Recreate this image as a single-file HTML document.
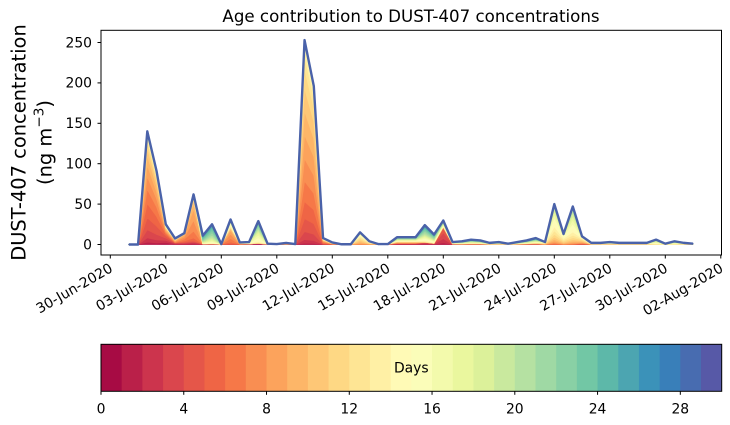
<!DOCTYPE html>
<html>
<head>
<meta charset="utf-8">
<style>
html,body{margin:0;padding:0;background:#fff;}
svg{display:block;}
text{font-family:"DejaVu Sans","Liberation Sans",sans-serif;fill:#000;}
</style>
</head>
<body>
<svg id="s" width="730" height="425" viewBox="0 0 730 425" xmlns="http://www.w3.org/2000/svg">
<rect x="0" y="0" width="730" height="425" fill="#fff"/>
<defs><clipPath id="c"><rect x="101" y="30.3" width="620.5" height="224.7"/></clipPath></defs>
<g id="stack" clip-path="url(#c)"></g>
<rect x="101" y="30.3" width="620.5" height="224.7" fill="none" stroke="#000" stroke-width="1"/>

<text x="411" y="22" text-anchor="middle" font-size="16.67">Age contribution to DUST-407 concentrations</text>

<g stroke="#000" stroke-width="1">
<line x1="97.5" y1="244.5" x2="101" y2="244.5"/>
<line x1="97.5" y1="204.1" x2="101" y2="204.1"/>
<line x1="97.5" y1="163.7" x2="101" y2="163.7"/>
<line x1="97.5" y1="123.3" x2="101" y2="123.3"/>
<line x1="97.5" y1="82.9" x2="101" y2="82.9"/>
<line x1="97.5" y1="42.5" x2="101" y2="42.5"/>
</g>
<g font-size="13.9" text-anchor="end">
<text x="92" y="249.3">0</text>
<text x="92" y="208.9">50</text>
<text x="92" y="168.5">100</text>
<text x="92" y="128.1">150</text>
<text x="92" y="87.7">200</text>
<text x="92" y="47.3">250</text>
</g>

<text transform="translate(25.5,142.5) rotate(-90)" text-anchor="middle" font-size="19.44">DUST-407 concentration</text>
<text transform="translate(51.5,142.5) rotate(-90)" text-anchor="middle" font-size="19.44">(ng m<tspan font-size="13.6" dy="-8">−3</tspan><tspan dy="8">)</tspan></text>

<g stroke="#000" stroke-width="1">
<line x1="110.3" y1="255" x2="110.3" y2="258.5"/>
<line x1="165.8" y1="255" x2="165.8" y2="258.5"/>
<line x1="221.3" y1="255" x2="221.3" y2="258.5"/>
<line x1="276.8" y1="255" x2="276.8" y2="258.5"/>
<line x1="332.3" y1="255" x2="332.3" y2="258.5"/>
<line x1="387.8" y1="255" x2="387.8" y2="258.5"/>
<line x1="443.3" y1="255" x2="443.3" y2="258.5"/>
<line x1="498.8" y1="255" x2="498.8" y2="258.5"/>
<line x1="554.3" y1="255" x2="554.3" y2="258.5"/>
<line x1="609.8" y1="255" x2="609.8" y2="258.5"/>
<line x1="665.3" y1="255" x2="665.3" y2="258.5"/>
<line x1="720.8" y1="255" x2="720.8" y2="258.5"/>
</g>
<g font-size="13.9" text-anchor="end">
<text transform="translate(108.5,262) rotate(-30)" dy="10.3">30-Jun-2020</text>
<text transform="translate(164,262) rotate(-30)" dy="10.3">03-Jul-2020</text>
<text transform="translate(219.5,262) rotate(-30)" dy="10.3">06-Jul-2020</text>
<text transform="translate(275,262) rotate(-30)" dy="10.3">09-Jul-2020</text>
<text transform="translate(330.5,262) rotate(-30)" dy="10.3">12-Jul-2020</text>
<text transform="translate(386,262) rotate(-30)" dy="10.3">15-Jul-2020</text>
<text transform="translate(441.5,262) rotate(-30)" dy="10.3">18-Jul-2020</text>
<text transform="translate(497,262) rotate(-30)" dy="10.3">21-Jul-2020</text>
<text transform="translate(552.5,262) rotate(-30)" dy="10.3">24-Jul-2020</text>
<text transform="translate(608,262) rotate(-30)" dy="10.3">27-Jul-2020</text>
<text transform="translate(663.5,262) rotate(-30)" dy="10.3">30-Jul-2020</text>
<text transform="translate(719,262) rotate(-30)" dy="10.3">02-Aug-2020</text>
</g>

<g id="cbar"></g>
<rect x="101" y="344.3" width="620.7" height="47" fill="none" stroke="#000" stroke-width="1"/>
<text x="411.3" y="372.5" text-anchor="middle" font-size="13.9">Days</text>
<g stroke="#000" stroke-width="1">
<line x1="101" y1="391.3" x2="101" y2="394.8"/>
<line x1="183.76" y1="391.3" x2="183.76" y2="394.8"/>
<line x1="266.52" y1="391.3" x2="266.52" y2="394.8"/>
<line x1="349.28" y1="391.3" x2="349.28" y2="394.8"/>
<line x1="432.04" y1="391.3" x2="432.04" y2="394.8"/>
<line x1="514.8" y1="391.3" x2="514.8" y2="394.8"/>
<line x1="597.56" y1="391.3" x2="597.56" y2="394.8"/>
<line x1="680.32" y1="391.3" x2="680.32" y2="394.8"/>
</g>
<g font-size="13.9" text-anchor="middle">
<text x="101" y="413.5">0</text>
<text x="183.76" y="413.5">4</text>
<text x="266.52" y="413.5">8</text>
<text x="349.28" y="413.5">12</text>
<text x="432.04" y="413.5">16</text>
<text x="514.8" y="413.5">20</text>
<text x="597.56" y="413.5">24</text>
<text x="680.32" y="413.5">28</text>
</g>
</svg>
<script>
(function(){
var NS='http://www.w3.org/2000/svg';
var SP=[[158,1,66],[213,62,79],[244,109,67],[253,174,97],[254,224,139],[255,255,191],[230,245,152],[171,221,164],[102,194,165],[50,136,189],[94,79,162]];
function sp(t){t=Math.max(0,Math.min(1,t))*10;var i=Math.min(9,Math.floor(t));var f=t-i;var a=SP[i],b=SP[i+1];
return 'rgb('+[0,1,2].map(function(j){return Math.round(a[j]+(b[j]-a[j])*f);}).join(',')+')';}
var col=[];for(var k=0;k<30;k++)col.push(sp((k+0.5)/30));

var cb=document.getElementById('cbar');
var bw=620.7/30;
for(var k=0;k<30;k++){var r=document.createElementNS(NS,'rect');
r.setAttribute('x',(101+k*bw).toFixed(2));r.setAttribute('y','344.3');
r.setAttribute('width',(bw+(k<29?0.5:0)).toFixed(2));r.setAttribute('height','47');
r.setAttribute('fill',col[k]);cb.appendChild(r);}

var V=[0,0,140,91,25,7.5,14,62,11,25,
0.5,31,2.5,3,29,1,0.5,2,0.5,253,
196,8,2.5,0.3,0.3,15,4,0.5,0.5,9,
9,9,24,12.4,29.7,3,4,6,5,2,
3,1,3,5,8,3,50,13,47,10,
2,2,3,2,2,2,2,6,1,4,
2,1];
var D=[[10,4,1]];
var C={};
C[2]=[[5,2,1],[9,2,0.6],[13,1.5,0.1],[19,2,0.04]];
C[3]=[[5,2,1],[9,2,0.5],[13,1.5,0.1],[19,2,0.04]];
C[4]=[[3,2,1],[8,2,0.5],[16,3,0.2]];
C[5]=[[2,1,1],[8,2,1],[15,2,0.4]];
C[6]=[[7,2,1],[2,1,0.3]];
C[7]=[[7.5,1.5,1],[2,1,0.1],[13,2,0.08]];
C[8]=[[2,1,0.2],[17,2,0.5],[23,2,1]];
C[9]=[[2,1,0.15],[16,2,0.4],[22,2.5,1]];
C[11]=[[7,1.5,1],[14,2,0.3],[21,2,0.1]];
C[13]=[[1,1,1],[15,3,1]];
C[14]=[[0,0.7,0.35],[16,2,1],[22,2,0.6]];
C[19]=[[4,1.5,0.35],[7,2,1],[10.5,1.8,0.9],[14,1.5,0.08]];
C[20]=[[4,1.5,0.35],[7,2,1],[10.5,1.8,0.8],[14,1.5,0.08]];
C[21]=[[6,2,1],[13,2,0.6]];
C[25]=[[10,2,1],[14,2,0.8]];
C[26]=[[12,3,1]];
[29,30,31].forEach(function(i){C[i]=[[2,1,0.5],[8,3,0.5],[15,2,0.5],[21,3,0.6]];});
C[32]=[[2,1.5,0.25],[15,2,0.5],[21,2,0.6],[25,1.5,0.3]];
C[33]=[[2,1.5,0.25],[15,2,0.5],[21,2,0.6],[25,1.5,0.3]];
C[34]=[[3,1.2,1],[15,2,0.12],[21,2,0.1]];
C[35]=[[4,2,0.5],[16,3,1]];
for(var i=36;i<=44;i++)C[i]=[[1,1,0.3],[10,3,0.3],[18,3,0.6],[25,2,0.4]];
C[45]=[[12,3,1]];
C[46]=[[8,2,0.3],[12,2,0.7],[15,2,1],[19,2,0.4]];
C[47]=[[10,2,0.5],[14,2,1]];
C[48]=[[9,2,0.3],[13,2,0.6],[16,2,1],[20,2,0.4]];
C[49]=[[6,2,0.5],[11,2,1],[15,2,0.4]];
for(var i=50;i<=61;i++)C[i]=[[10,3,0.5],[18,3,1]];
C[57]=[[15,2,1],[20,2,0.5]];
C[59]=[[15,2,1],[22,2,0.5]];

function X(i){return 110.3+18.5*(1+i/2);}
function Y(v){return 244.5-v*0.808;}
var N=V.length,cum=[];
for(var i=0;i<N;i++){var cs=C[i]||D,w=[],s=0;
for(var k=0;k<30;k++){var v=0;cs.forEach(function(c){v+=c[2]*Math.exp(-(k-c[0])*(k-c[0])/(2*c[1]*c[1]));});w.push(v);s+=v;}
var acc=0,row=[];for(var k=0;k<30;k++){acc+=V[i]*w[k]/s;row.push(acc);}cum.push(row);}
var g=document.getElementById('stack');
for(var k=0;k<30;k++){var pts=[];
for(var i=0;i<N;i++)pts.push(X(i).toFixed(2)+','+Y(cum[i][k]).toFixed(2));
for(var i=N-1;i>=0;i--)pts.push(X(i).toFixed(2)+','+Y(k?cum[i][k-1]:0).toFixed(2));
var p=document.createElementNS(NS,'polygon');
p.setAttribute('points',pts.join(' '));p.setAttribute('fill',col[k]);
p.setAttribute('stroke',col[k]);p.setAttribute('stroke-width','0.8');p.setAttribute('stroke-linejoin','round');
g.appendChild(p);}
var lp=[];for(var i=0;i<N;i++)lp.push(X(i).toFixed(2)+','+Y(V[i]).toFixed(2));
var pl=document.createElementNS(NS,'polyline');
pl.setAttribute('points',lp.join(' '));pl.setAttribute('fill','none');pl.setAttribute('stroke','#4a62a9');
pl.setAttribute('stroke-width','2.4');pl.setAttribute('stroke-linejoin','round');
g.appendChild(pl);
})();
</script>
</body>
</html>
